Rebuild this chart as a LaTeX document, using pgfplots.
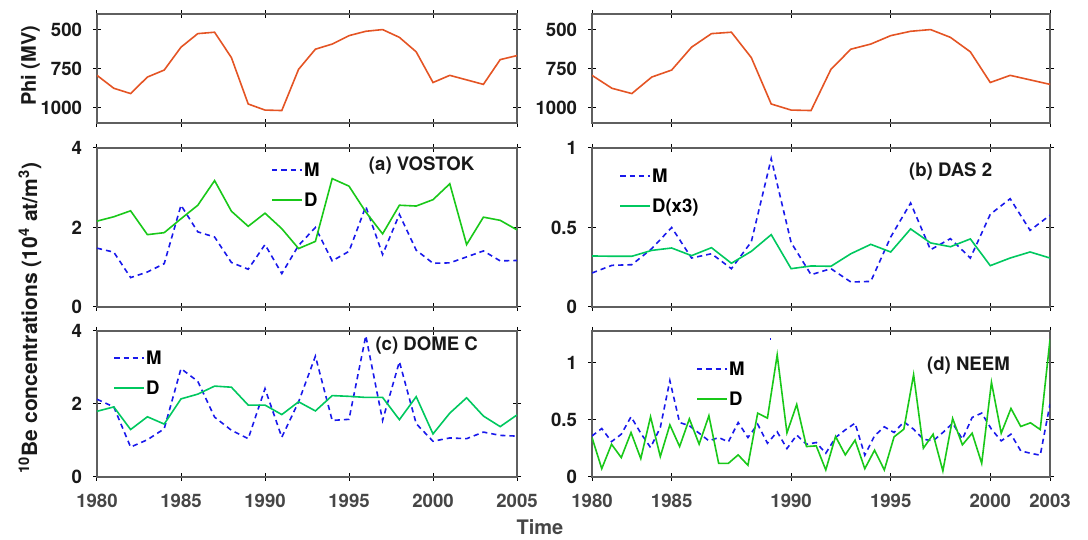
\documentclass[border=0pt]{standalone}
\usepackage{pgfplots}
\usepackage{pgfplotstable}
\pgfplotsset{compat=1.18}
\usepackage{fontspec}
\setmainfont{TeX Gyre Heros}
\definecolor{phic}{RGB}{228,84,36}
\definecolor{mblue}{RGB}{25,25,235}
\definecolor{dgA}{RGB}{25,200,25}
\definecolor{dgB}{RGB}{0,200,95}
\definecolor{axgray}{RGB}{95,95,95}
\definecolor{xlab}{RGB}{70,70,70}

\pgfplotstableread{
year phi
1980 794
1981 877
1982 911
1983 805
1984 760
1985 613
1986 526
1987 517
1988 680
1989 978
1990 1017
1991 1020
1992 755
1993 626
1994 593
1995 539
1996 511
1997 500
1998 550
1999 643
2000 840
2001 794
2002 823
2003 852
2004 693
2005 667
}\phitab

\pgfplotstableread{
year M D
1980 1.48 2.16
1981 1.38 2.27
1982 0.74 2.42
1983 0.88 1.82
1984 1.09 1.87
1985 2.56 2.22
1986 1.89 2.56
1987 1.76 3.18
1988 1.12 2.41
1989 0.95 2.03
1990 1.57 2.36
1991 0.84 1.97
1992 1.55 1.47
1993 2.00 1.65
1994 1.16 3.23
1995 1.40 3.04
1996 2.53 2.39
1997 1.32 1.84
1998 2.33 2.56
1999 1.43 2.54
2000 1.10 2.70
2001 1.11 3.10
2002 1.26 1.57
2003 1.41 2.26
2004 1.16 2.18
2005 1.17 1.94
}\vostok

\pgfplotstableread{
year M D
1980 0.214 0.321
1981 0.262 0.319
1982 0.266 0.319
1983 0.367 0.356
1984 0.500 0.371
1985 0.308 0.323
1986 0.335 0.373
1987 0.241 0.275
1988 0.410 0.350
1989 0.933 0.455
1990 0.405 0.241
1991 0.203 0.258
1992 0.241 0.256
1993 0.157 0.335
1994 0.161 0.394
1995 0.440 0.346
1996 0.654 0.491
1997 0.360 0.403
1998 0.430 0.379
1999 0.308 0.428
2000 0.583 0.260
2001 0.681 0.308
2002 0.482 0.346
2003 0.577 0.308
}\das

\pgfplotstableread{
year M D
1980 2.13 1.80
1981 1.92 1.92
1982 0.82 1.30
1983 1.02 1.65
1984 1.32 1.45
1985 2.97 2.14
1986 2.62 2.27
1987 1.64 2.49
1988 1.28 2.46
1989 1.05 1.97
1990 2.42 1.97
1991 1.09 1.71
1992 2.06 2.06
1993 3.31 1.81
1994 1.55 2.23
1995 1.58 2.21
1996 3.87 2.18
1997 1.55 2.18
1998 3.16 1.57
1999 1.46 2.20
2000 0.98 1.18
2001 1.07 1.75
2002 1.05 2.17
2003 1.23 1.67
2004 1.14 1.38
2005 1.12 1.70
}\domec

\pgfplotstableread{
year M D
1980.00 0.360 0.346
1980.49 0.425 0.073
1980.98 0.310 0.287
1981.47 0.375 0.170
1981.96 0.528 0.390
1982.45 0.384 0.161
1982.94 0.258 0.528
1983.43 0.434 0.179
1983.91 0.845 0.457
1984.40 0.478 0.267
1984.89 0.449 0.510
1985.38 0.384 0.288
1985.87 0.317 0.537
1986.36 0.346 0.120
1986.85 0.308 0.120
1987.34 0.478 0.194
1987.83 0.346 0.103
1988.32 0.463 0.560
1988.81 0.296 0.516
1989.30 0.396 1.070
1989.79 0.249 0.387
1990.28 0.367 0.636
1990.77 0.287 0.267
1991.26 0.302 0.273
1991.74 0.208 0.062
1992.23 0.346 0.355
1992.72 0.413 0.194
1993.21 0.472 0.323
1993.70 0.191 0.073
1994.19 0.361 0.235
1994.68 0.440 0.062
1995.17 0.390 0.352
1995.66 0.484 0.419
1996.15 0.419 0.897
1996.64 0.331 0.252
1997.13 0.317 0.375
1997.62 0.390 0.053
1998.11 0.472 0.513
1998.60 0.331 0.282
1999.09 0.522 0.384
1999.57 0.560 0.120
2000.06 0.419 0.830
2000.55 0.317 0.384
2001.04 0.375 0.601
2001.53 0.229 0.443
2002.02 0.208 0.475
2002.51 0.191 0.416
2003.00 0.639 1.205
}\neem

\tikzset{
  lab/.style={font=\bfseries\fontsize{9.3}{11}\selectfont, text=black!90},
  philine/.style={draw=phic, line width=0.8pt},
  mline/.style={draw=mblue, line width=0.8pt, dash pattern=on 2.6pt off 2pt},
  dlineA/.style={draw=dgA, line width=0.8pt},
  dlineB/.style={draw=dgB, line width=0.8pt},
}

\pgfplotsset{
  base/.style={
    scale only axis, anchor=south west,
    axis line style={axgray, line width=0.6pt},
    tick style={black, line width=0.5pt},
    tick align=center, major tick length=4pt,
    every tick label/.append style={font=\bfseries\fontsize{9.3}{11}\selectfont},
    yticklabel style={xshift=-2pt, text=black!90},
    xticklabel style={yshift=-3pt, text=xlab},
    /pgf/number format/assume math mode=true,
    legend style={draw=none, fill=none, anchor=north west,
      font=\bfseries\fontsize{9.3}{11}\selectfont, row sep=6pt,
      nodes={inner sep=0.5pt, text height=7pt, text depth=1pt},
      xshift=-2.5pt, yshift=4.15pt},
    legend cell align=left,
    legend image code/.code={\draw[##1] (0pt,0pt) -- (15pt,0pt);},
  },
  colL/.style={base, xmin=1980, xmax=2005, width=210pt,
    xtick={1980,1985,1990,1995,2000,2005}},
  colR/.style={base, xmin=1980, xmax=2003, width=229pt,
    xtick={1980,1984,1990,1995,2000,2003}},
}

\begin{document}
\begin{tikzpicture}
\path[use as bounding box] (0,0) rectangle (544pt,270pt);

% top left
\begin{axis}[colL, at={(48.5pt,208.5pt)}, height=54.5pt,
  y dir=reverse, ymin=400, ymax=1100, ytick={500,750,1000},
  yticklabels={500,750,1000}, xticklabels={}]
\addplot[philine] table[x=year,y=phi]{\phitab};
\end{axis}

% top right
\begin{axis}[colR, at={(296pt,208.5pt)}, height=54.5pt,
  y dir=reverse, ymin=400, ymax=1100, ytick={500,750,1000},
  yticklabels={500,750,1000}, xticklabels={}]
\addplot[philine] table[x=year,y=phi]{\phitab};
\end{axis}

% (a) VOSTOK
\begin{axis}[colL, at={(48.5pt,116.5pt)}, height=79.5pt,
  ymin=0, ymax=4, ytick={0,2,4}, yticklabels={0,2,4}, xticklabels={},
  legend style={at={(0.412,0.893)}}]
\addplot[mline] table[x=year,y=M]{\vostok};
\addplot[dlineA] table[x=year,y=D]{\vostok};
\legend{M,D}
\node[lab] at (axis description cs:0.773,0.893) {(a) VOSTOK};
\end{axis}

% (b) DAS 2
\begin{axis}[colR, at={(296pt,116.5pt)}, height=79.5pt,
  ymin=0, ymax=1, ytick={0,0.5,1}, yticklabels={0,0.5,1}, xticklabels={},
  legend style={at={(0.057,0.855)}}]
\addplot[mline] table[x=year,y=M]{\das};
\addplot[dlineB] table[x=year,y=D]{\das};
\legend{M,D(x3)}
\node[lab] at (axis description cs:0.783,0.855) {(b) DAS 2};
\end{axis}

% (c) DOME C
\begin{axis}[colL, at={(48.5pt,31.5pt)}, height=73pt,
  ymin=0, ymax=4, ytick={0,2,4}, yticklabels={0,2,4},
  xticklabels={1980,1985,1990,1995,2000,2005},
  legend style={at={(0.036,0.849)}}]
\addplot[mline] table[x=year,y=M]{\domec};
\addplot[dlineB] table[x=year,y=D]{\domec};
\legend{M,D}
\node[lab] at (axis description cs:0.785,0.904) {(c) DOME C};
\end{axis}

% (d) NEEM
\begin{axis}[colR, at={(296pt,31.5pt)}, height=73pt,
  ymin=0, ymax=1.28, ytick={0,0.5,1}, yticklabels={0,0.5,1},
  xticklabels={1980,1985,1990,1995,2000,2003},
  legend style={at={(0.225,0.774)}}]
\addplot[mline] table[x=year,y=M]{\neem};
\addplot[dlineA] table[x=year,y=D]{\neem};
\legend{M,D}
\addplot[draw=mblue, line width=0.8pt, forget plot] coordinates {(1988.93,1.21) (1989.0,1.21)};
\node[lab] at (axis description cs:0.822,0.760) {(d) NEEM};
\end{axis}

% axis titles
\node[rotate=90, font=\bfseries\fontsize{10}{12}\selectfont, text=black!90] at (15.25pt,237pt) {Phi (MV)};
\node[rotate=90, font=\bfseries\fontsize{10.5}{12}\selectfont, text=black!90] at (15pt,111pt)
  {\textsuperscript{10}Be concentrations (10\textsuperscript{4} at/m\textsuperscript{3})};
\node[anchor=base, font=\bfseries\fontsize{10}{12}\selectfont, text=xlab] at (270pt,2.5pt) {Time};
\end{tikzpicture}
\end{document}
